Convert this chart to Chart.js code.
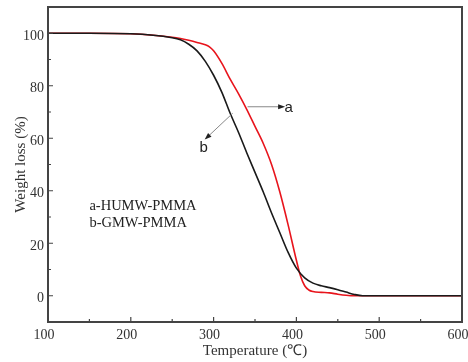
<!DOCTYPE html>
<html>
<head>
<meta charset="utf-8">
<script src="https://cdn.jsdelivr.net/npm/chart.js@4.4.1/dist/chart.umd.min.js"></script>
<style>
  html, body { margin: 0; padding: 0; background: #fff; }
  #wrap { width: 468px; height: 362px; }
</style>
</head>
<body>
<div id="wrap"><canvas id="grafica" width="468" height="362"></canvas></div>
<script>
// curva a (HUMW-PMMA), roja
const tempA = [100, 150, 200, 250, 260, 270, 280, 290, 295, 300, 310, 320, 330, 340, 350, 360, 370, 380, 390, 400, 405, 410, 415, 420, 430, 440, 450, 460, 470, 600];
const pesoA = [100, 100, 99.8, 98.5, 98, 97.3, 96.5, 95.6, 94.8, 93.3, 88.5, 82.5, 77, 71, 64.5, 58, 50, 39.5, 27, 13.5, 7.5, 3.8, 2.2, 1.6, 1.3, 1.1, 0.6, 0.2, 0, 0];
// curva b (GMW-PMMA), negra
const tempB = [100, 150, 200, 250, 260, 270, 280, 290, 300, 310, 320, 330, 340, 350, 360, 370, 380, 390, 400, 410, 420, 430, 440, 450, 460, 470, 480, 600];
const pesoB = [100, 100, 99.8, 98.3, 97.5, 95.8, 93.3, 89.3, 84, 77.5, 69.5, 62.3, 54.5, 47, 39.5, 31.5, 24, 16.5, 10.5, 6.8, 4.8, 3.8, 3.1, 2.3, 1.4, 0.5, 0, 0];

const ticksX = [100, 200, 300, 400, 500, 600];
const ticksY = [0, 20, 40, 60, 80, 100];
const menoresX = [150, 250, 350, 450, 550];
const menoresY = [-10, 10, 30, 50, 70, 90];

const etiquetas = ["a-HUMW-PMMA", "b-GMW-PMMA"];

function puntos(xs, ys) {
    return xs.map((x, i) => ({ x: x, y: ys[i] }));
}

// marco, marcas hacia adentro y anotaciones
const extras = {
    id: 'extras',
    afterDraw(chart) {
        const ctx = chart.ctx;
        const a = chart.chartArea;
        const sx = chart.scales.x;
        const sy = chart.scales.y;
        ctx.save();
        ctx.strokeStyle = '#444';
        ctx.lineWidth = 2;
        ctx.strokeRect(a.left, a.top, a.right - a.left, a.bottom - a.top);

        ctx.lineWidth = 1.2;
        ctx.beginPath();
        ticksX.forEach(v => {
            const px = sx.getPixelForValue(v);
            ctx.moveTo(px, a.bottom); ctx.lineTo(px, a.bottom - 5);
        });
        menoresX.forEach(v => {
            const px = sx.getPixelForValue(v);
            ctx.moveTo(px, a.bottom); ctx.lineTo(px, a.bottom - 3);
        });
        ticksY.forEach(v => {
            const py = sy.getPixelForValue(v);
            ctx.moveTo(a.left, py); ctx.lineTo(a.left + 5, py);
        });
        menoresY.forEach(v => {
            const py = sy.getPixelForValue(v);
            ctx.moveTo(a.left, py); ctx.lineTo(a.left + 3, py);
        });
        ctx.stroke();

        // flecha a
        flecha(ctx, sx.getPixelForValue(341), sy.getPixelForValue(72), sx.getPixelForValue(384), sy.getPixelForValue(72));
        // flecha b
        flecha(ctx, sx.getPixelForValue(323), sy.getPixelForValue(69.5), sx.getPixelForValue(291), sy.getPixelForValue(60));

        ctx.fillStyle = '#222';
        ctx.font = '15px "Liberation Sans", Arial, sans-serif';
        ctx.textBaseline = 'middle';
        ctx.textAlign = 'left';
        ctx.fillText('a', sx.getPixelForValue(385.5), sy.getPixelForValue(71.5));
        ctx.textAlign = 'center';
        ctx.fillText('b', sx.getPixelForValue(288), sy.getPixelForValue(56.5));

        ctx.font = '14.5px "Liberation Serif", "Times New Roman", serif';
        ctx.textAlign = 'left';
        ctx.fillText(etiquetas[0], sx.getPixelForValue(150), sy.getPixelForValue(34));
        ctx.fillText(etiquetas[1], sx.getPixelForValue(150), sy.getPixelForValue(27.5));
        ctx.restore();
    }
};

function flecha(ctx, x1, y1, x2, y2) {
    ctx.strokeStyle = '#888';
    ctx.lineWidth = 1;
    ctx.beginPath();
    ctx.moveTo(x1, y1);
    ctx.lineTo(x2, y2);
    ctx.stroke();
    const ang = Math.atan2(y2 - y1, x2 - x1);
    ctx.fillStyle = '#222';
    ctx.beginPath();
    ctx.moveTo(x2 + 2 * Math.cos(ang), y2 + 2 * Math.sin(ang));
    ctx.lineTo(x2 - 5 * Math.cos(ang) - 2.5 * Math.sin(ang), y2 - 5 * Math.sin(ang) + 2.5 * Math.cos(ang));
    ctx.lineTo(x2 - 5 * Math.cos(ang) + 2.5 * Math.sin(ang), y2 - 5 * Math.sin(ang) - 2.5 * Math.cos(ang));
    ctx.closePath();
    ctx.fill();
}

const fuente = { family: '"Liberation Serif", "Times New Roman", serif', size: 14 };
const fuenteTitulo = { family: '"Liberation Serif", "Times New Roman", serif', size: 15 };

new Chart(document.getElementById('grafica').getContext('2d'), {
    type: 'line',
    data: {
        datasets: [{
            label: etiquetas[1],
            data: puntos(tempB, pesoB),
            borderColor: '#1a1a1a',
            borderWidth: 1.6,
            pointRadius: 0,
            cubicInterpolationMode: 'monotone',
            fill: false
        }, {
            label: etiquetas[0],
            data: puntos(tempA, pesoA),
            borderColor: '#e8141c',
            borderWidth: 1.6,
            pointRadius: 0,
            cubicInterpolationMode: 'monotone',
            fill: false
        }]
    },
    options: {
        responsive: false,
        animation: false,
        devicePixelRatio: 1,
        layout: { padding: { top: 7, right: 6, left: 0, bottom: 2 } },
        plugins: {
            legend: { display: false },
            tooltip: { enabled: false }
        },
        scales: {
            x: {
                type: 'linear',
                min: 100,
                max: 600,
                afterBuildTicks: s => { s.ticks = ticksX.map(v => ({ value: v })); },
                afterFit: s => { s.paddingLeft = 0; s.paddingRight = 0; s.height = 38; },
                grid: { display: false, drawTicks: false },
                border: { display: false },
                ticks: { color: '#333', font: fuente, padding: 5, maxRotation: 0, labelOffset: -4 },
                title: { display: true, text: 'Temperature (℃)', color: '#333', font: fuenteTitulo, padding: { top: 0, bottom: 0 } }
            },
            y: {
                type: 'linear',
                min: -10,
                max: 110,
                afterBuildTicks: s => { s.ticks = ticksY.map(v => ({ value: v })); },
                afterFit: s => { s.width = 48; s.paddingTop = 0; s.paddingBottom = 0; },
                grid: { display: false, drawTicks: false },
                border: { display: false },
                ticks: { color: '#333', font: fuente, padding: 4, labelOffset: 3 },
                title: { display: true, text: 'Weight loss (%)', color: '#333', font: fuenteTitulo, padding: { top: 12, bottom: 0 } }
            }
        }
    },
    plugins: [extras]
});
</script>
</body>
</html>
